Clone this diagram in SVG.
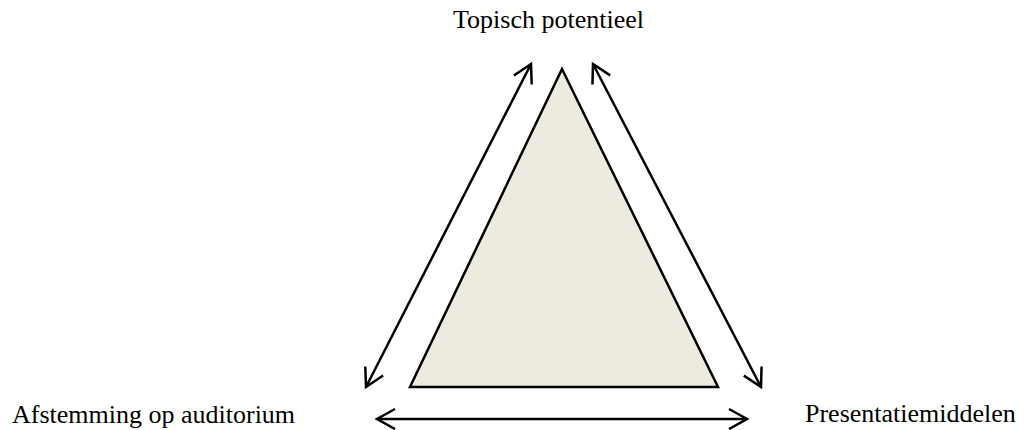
<svg xmlns="http://www.w3.org/2000/svg" width="1024" height="430" viewBox="0 0 1024 430">
  <style>
    .lbl { font-family: "Liberation Serif", "Times New Roman", serif; font-size: 26px; fill: #000; }
    .conn { stroke: #000; stroke-width: 2.5; fill: none; }
  </style>
  <defs>
    <marker id="head" markerUnits="userSpaceOnUse" viewBox="-22 -14 26 28" refX="0" refY="0" markerWidth="26" markerHeight="28" orient="auto-start-reverse">
      <path d="M -18 -10 L 0 0 L -18 10" fill="none" stroke="#000" stroke-width="2.5" stroke-linejoin="miter"/>
    </marker>
  </defs>
  <rect width="1024" height="430" fill="#fff"/>
  <g id="triangle">
    <polygon points="562,69 410,387 718,387" fill="#EDEAE0" stroke="#000" stroke-width="2.5" stroke-linejoin="miter"/>
  </g>
  <g id="node-top">
    <text class="lbl" x="453" y="28">Topisch potentieel</text>
  </g>
  <g id="node-left">
    <text class="lbl" x="12" y="423">Afstemming op auditorium</text>
  </g>
  <g id="node-right">
    <text class="lbl" x="805" y="422">Presentatiemiddelen</text>
  </g>
  <g id="connectors">
    <line class="conn" x1="366" y1="387" x2="531" y2="64" marker-start="url(#head)" marker-end="url(#head)"/>
    <line class="conn" x1="593" y1="64" x2="761" y2="387" marker-start="url(#head)" marker-end="url(#head)"/>
    <line class="conn" x1="377" y1="419" x2="747" y2="419" marker-start="url(#head)" marker-end="url(#head)"/>
  </g>
</svg>
